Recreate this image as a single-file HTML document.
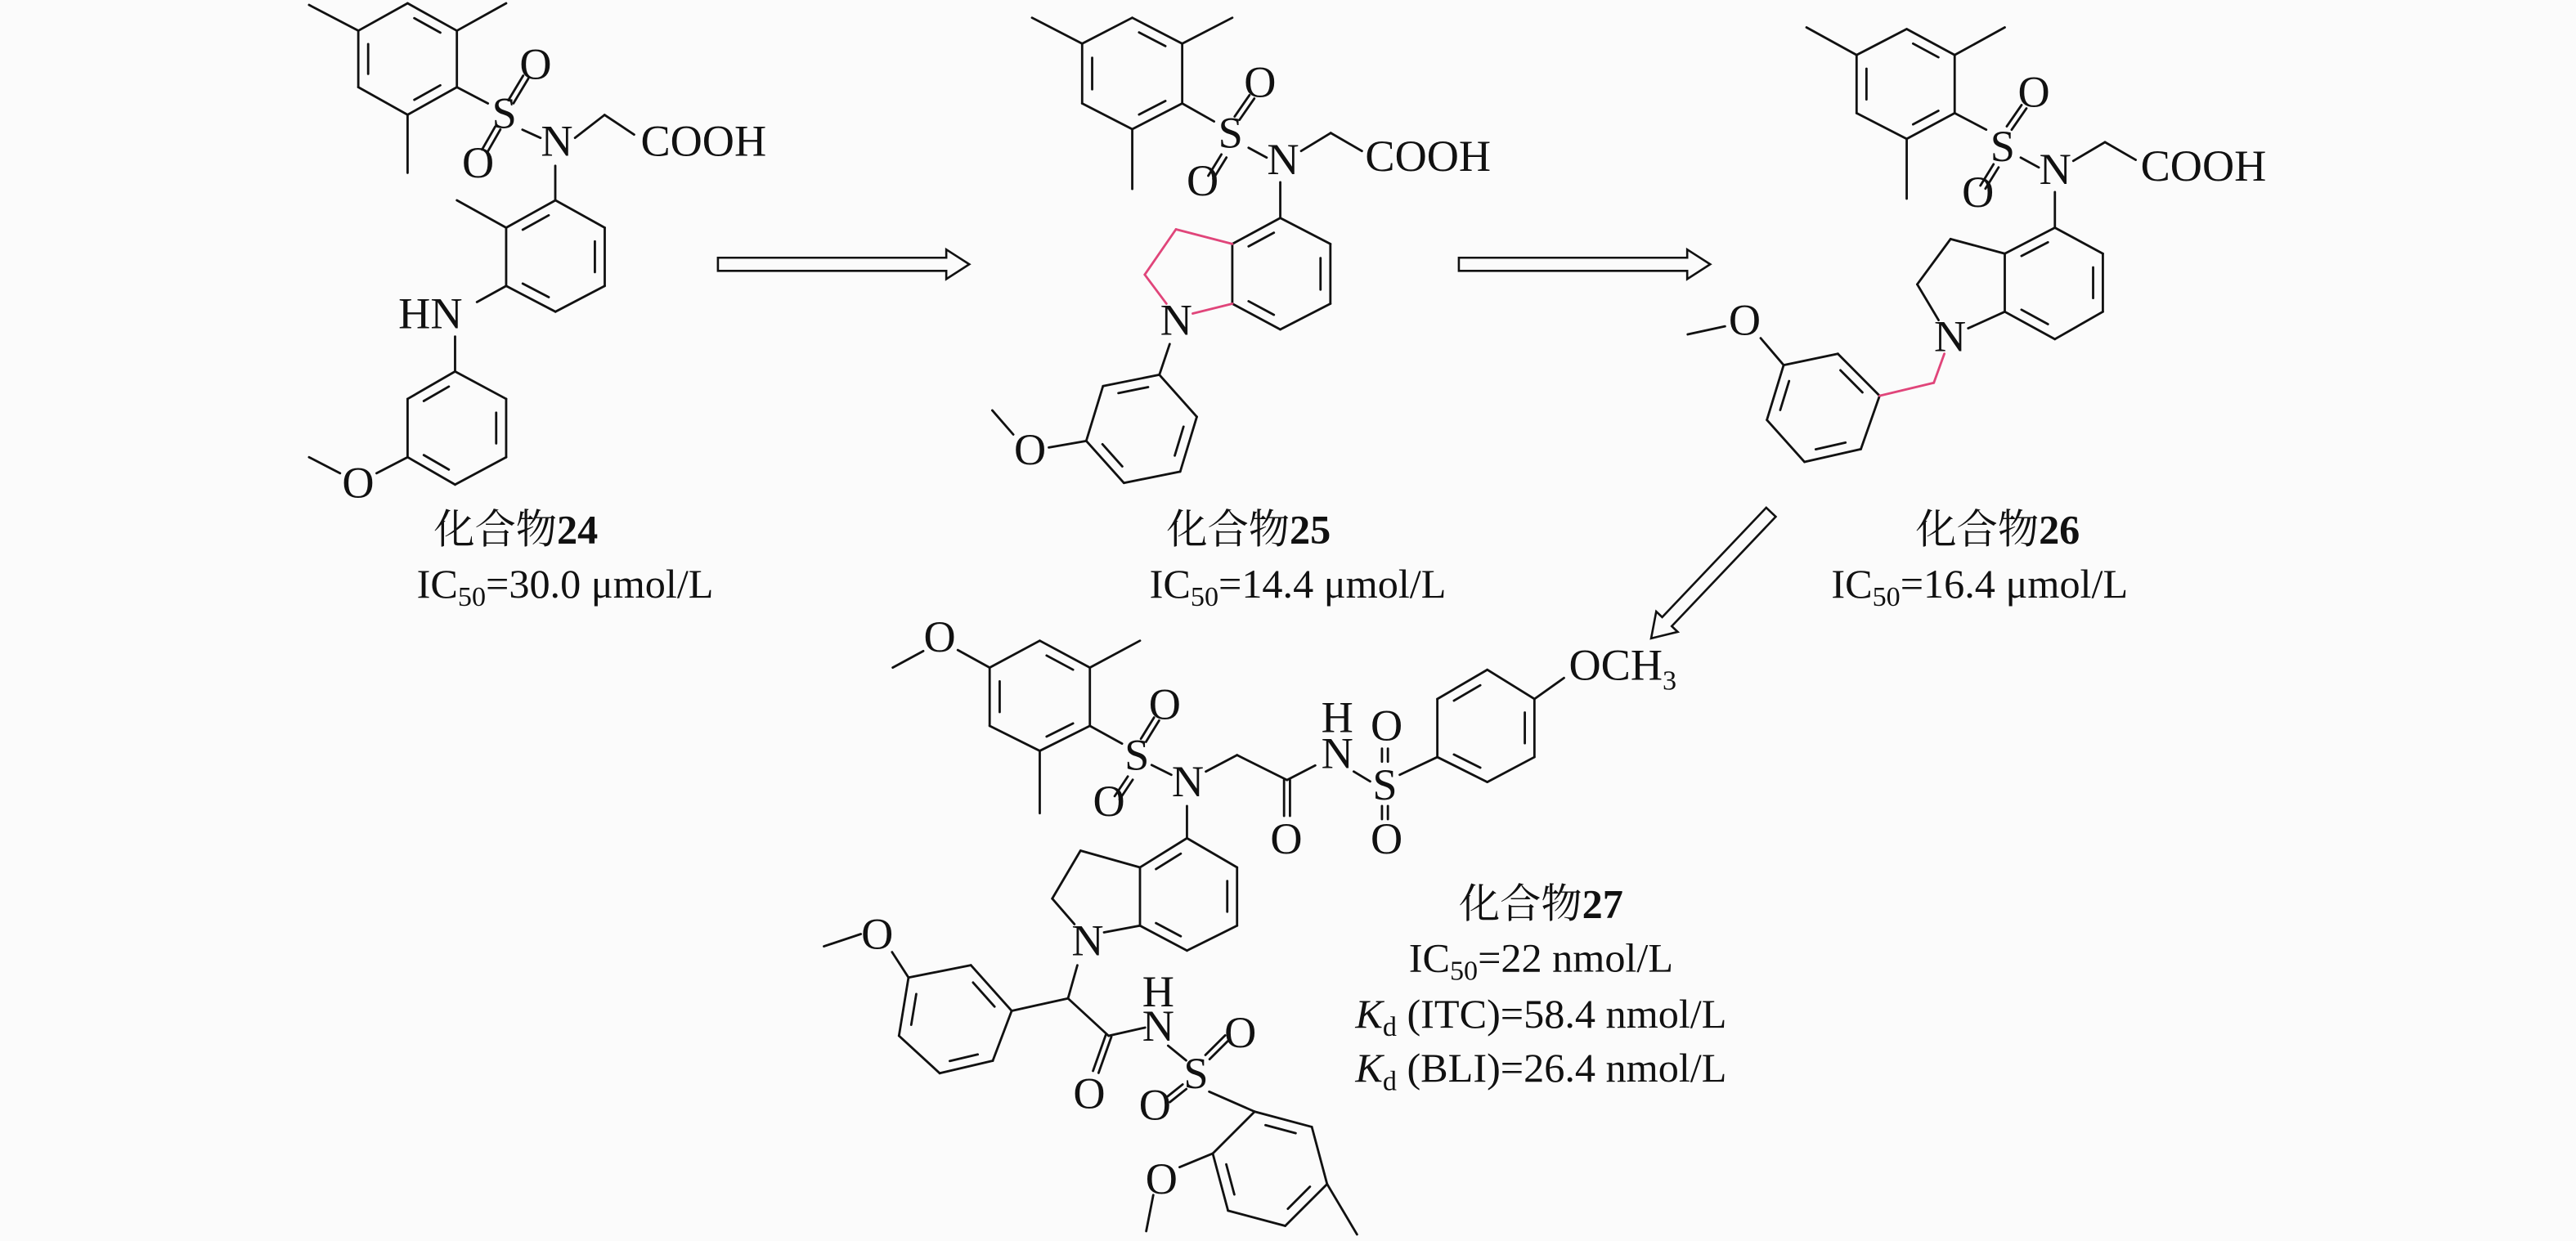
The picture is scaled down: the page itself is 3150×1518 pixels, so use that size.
<!DOCTYPE html>
<html><head><meta charset="utf-8">
<style>
html,body{margin:0;padding:0;background:#fbfbfb;}
svg{display:block;}
text{font-family:"Liberation Serif","Noto Serif CJK SC","Noto Sans CJK SC",serif;fill:#111;}
.a{font-size:27px;}
.l{font-size:25px;}
.c{font-family:"Liberation Serif","Noto Serif CJK SC",serif;font-weight:normal;}
</style></head>
<body>
<svg id="s" width="3150" height="1518" viewBox="0 0 1568 756" preserveAspectRatio="none" xmlns="http://www.w3.org/2000/svg">
<rect width="1568" height="756" fill="#fbfbfb"/>
<g id="bonds" stroke="#111" stroke-width="1.4" fill="none" stroke-linecap="round"></g>
<g id="pink" stroke="#e0457a" stroke-width="1.4" fill="none" stroke-linecap="round"></g>
<g stroke="#111" stroke-width="1.3" fill="#fbfbfb">
<polygon points="437,157 576,157 576,152 590,161 576,170 576,165 437,165"/>
<polygon points="888,157 1027,157 1027,152 1041,161 1027,170 1027,165 888,165"/>
<polygon transform="translate(1078,312) rotate(133.5)" points="0,-4 92,-4 92,-9 106,0 92,9 92,4 0,4"/>
</g>
<g class="a" text-anchor="middle">
<text x="307" y="78">S</text>
<text x="326" y="48">O</text>
<text x="291" y="108">O</text>
<text x="339" y="95">N</text>
<text x="262" y="200">HN</text>
<text x="218" y="303">O</text>
<text x="749" y="90">S</text>
<text x="767" y="59">O</text>
<text x="732" y="119">O</text>
<text x="781" y="106">N</text>
<text x="716" y="204" fill="#e0457a">N</text>
<text x="627" y="283">O</text>
<text x="1219" y="98">S</text>
<text x="1238" y="65">O</text>
<text x="1204" y="126">O</text>
<text x="1251" y="112">N</text>
<text x="1187" y="214">N</text>
<text x="1062" y="204">O</text>
<text x="572" y="397">O</text>
<text x="692" y="469">S</text>
<text x="709" y="438">O</text>
<text x="675" y="497">O</text>
<text x="723" y="485">N</text>
<text x="783" y="520">O</text>
<text x="814" y="446">H</text>
<text x="814" y="468">N</text>
<text x="843" y="487">S</text>
<text x="844" y="451">O</text>
<text x="844" y="520">O</text>
<text x="662" y="582">N</text>
<text x="534" y="578">O</text>
<text x="705" y="613">H</text>
<text x="705" y="634">N</text>
<text x="728" y="663">S</text>
<text x="755" y="638">O</text>
<text x="703" y="682">O</text>
<text x="663" y="675">O</text>
<text x="707" y="727">O</text>
</g>
<g class="a">
<text x="390" y="95">COOH</text>
<text x="831" y="104">COOH</text>
<text x="1303" y="110">COOH</text>
<text x="955" y="414">OCH<tspan font-size="17" dy="6">3</tspan></text>
</g>
<g class="l" text-anchor="middle">
<text x="314" y="331"><tspan class="c">化合物</tspan><tspan font-weight="bold">24</tspan></text>
<text x="344" y="364">IC<tspan font-size="17" dy="5">50</tspan><tspan dy="-5">=30.0 μmol/L</tspan></text>
<text x="760" y="331"><tspan class="c">化合物</tspan><tspan font-weight="bold">25</tspan></text>
<text x="790" y="364">IC<tspan font-size="17" dy="5">50</tspan><tspan dy="-5">=14.4 μmol/L</tspan></text>
<text x="1216" y="331"><tspan class="c">化合物</tspan><tspan font-weight="bold">26</tspan></text>
<text x="1205" y="364">IC<tspan font-size="17" dy="5">50</tspan><tspan dy="-5">=16.4 μmol/L</tspan></text>
<text x="938" y="559"><tspan class="c">化合物</tspan><tspan font-weight="bold">27</tspan></text>
<text x="938" y="592">IC<tspan font-size="17" dy="5">50</tspan><tspan dy="-5">=22 nmol/L</tspan></text>
<text x="938" y="626"><tspan font-style="italic">K</tspan><tspan font-size="17" dy="5">d</tspan><tspan dy="-5"> (ITC)=58.4 nmol/L</tspan></text>
<text x="938" y="659"><tspan font-style="italic">K</tspan><tspan font-size="17" dy="5">d</tspan><tspan dy="-5"> (BLI)=26.4 nmol/L</tspan></text>
</g>
</svg>
<script>
(function(){
var NS="http://www.w3.org/2000/svg";
var B=document.getElementById("bonds"),P=document.getElementById("pink");
function L(x1,y1,x2,y2,g){var e=document.createElementNS(NS,"line");e.setAttribute("x1",x1);e.setAttribute("y1",y1);e.setAttribute("x2",x2);e.setAttribute("y2",y2);(g||B).appendChild(e);}
function PL(pts,g){for(var i=0;i<pts.length-1;i++)L(pts[i][0],pts[i][1],pts[i+1][0],pts[i+1][1],g);}
function hex(p,d){var cx=0,cy=0;for(var i=0;i<6;i++){cx+=p[i][0];cy+=p[i][1];}cx/=6;cy/=6;
for(var i=0;i<6;i++){var a=p[i],b=p[(i+1)%6];L(a[0],a[1],b[0],b[1]);
if(d.indexOf(i)>=0){var q1=[a[0]+(b[0]-a[0])*.17,a[1]+(b[1]-a[1])*.17],q2=[a[0]+(b[0]-a[0])*.83,a[1]+(b[1]-a[1])*.83];
var k=.2;L(q1[0]+(cx-q1[0])*k,q1[1]+(cy-q1[1])*k,q2[0]+(cx-q2[0])*k,q2[1]+(cy-q2[1])*k);}}}
function dbl(x1,y1,x2,y2,o){var dx=x2-x1,dy=y2-y1,l=Math.hypot(dx,dy),nx=-dy/l*o,ny=dx/l*o;L(x1+nx,y1+ny,x2+nx,y2+ny);L(x1-nx,y1-ny,x2-nx,y2-ny);}
hex([[248.1,2],[278.1,18.7],[278.1,53.1],[248.1,69.9],[218.1,53.1],[218.1,18.7]],[0,2,4]);
L(218.1,18.7,188.1,3);L(278.1,18.7,308.1,2);L(248.1,69.9,248.1,105.3);
L(278.1,53.1,297,63);
dbl(311,62,320,47,1.8);dbl(303,78,295,92,1.8);
L(318,79,329,84);L(350,84,368,70);L(368,70,386,82);
L(338,101,338,122);
hex([[338.1,122],[368.1,138.7],[368.1,174.2],[338.1,189.9],[308.1,174.2],[308.1,138.7]],[5,1,3]);
L(308.1,138.7,278.1,122);L(308.1,174.2,290.3,184);
L(277,205,277,226.3);
hex([[277,226.3],[308.1,243],[308.1,278.5],[277,295.2],[248.1,278.5],[248.1,243]],[5,1,3]);
L(248.1,278.5,229.2,288.3);L(188.1,278.5,207,288.3);
hex([[689.2,10.8],[719.6,26.6],[719.6,63],[689.2,78.7],[658.7,63],[658.7,26.6]],[0,2,4]);
L(658.7,26.6,628.2,10.8);L(719.6,26.6,750.1,10.8);L(689.2,78.7,689.2,115.1);
L(719.6,63,739,74);
dbl(753,72,762,59,1.8);dbl(745,95,737,108,1.8);
L(760,90,771,96);L(792,92,810,81);L(810,81,829,92);
L(779.3,111,779.3,132.8);
hex([[779.3,132.8],[809.8,148.6],[809.8,185],[779.3,200.7],[750.1,185],[750.1,148.6]],[5,1,3]);
PL([[750.1,148.6],[715.8,139.7],[696.8,167.3],[710,185]],P);
L(726,191,750.1,185,P);
L(712,209.6,705.7,228.3);
hex([[705.7,228.3],[728.5,253.9],[718.4,287.3],[684.1,294.2],[661.2,268.6],[671.4,235.2]],[5,1,3]);
L(661.2,268.6,638.4,272.6);L(604,250,616.8,264.7);
hex([[1160.6,17.7],[1189.8,33.5],[1189.8,68.9],[1160.6,84.6],[1130.1,68.9],[1130.1,33.5]],[0,2,4]);
L(1130.1,33.5,1099.6,16.7);L(1189.8,33.5,1220.3,16.7);L(1160.6,84.6,1160.6,121);
L(1189.8,68.9,1209,79);
dbl(1223,78,1232,65,1.8);dbl(1215,101,1207,114,1.8);
L(1230,96,1241,102);L(1262,98,1281.3,86.6);L(1281.3,86.6,1300,97.4);
L(1250.8,117,1250.8,138.7);
hex([[1250.8,138.7],[1280,154.5],[1280,189.9],[1250.8,206.6],[1220.3,189.9],[1220.3,154.5]],[5,1,3]);
PL([[1220.3,154.5],[1187.3,145.6],[1167,173.2],[1180,195]]);
L(1198,200,1220.3,189.9);
PL([[1183.5,215.5],[1177.1,233.2],[1144.1,241.1]],P);
hex([[1144.1,241.1],[1118.7,215.5],[1085.7,222.4],[1075.5,255.8],[1098.4,281.4],[1132.7,273.6]],[0,2,4]);
L(1085.7,222.4,1071.7,206);L(1027.3,203.7,1050,198.8);
hex([[632.9,390.3],[663.4,406.7],[663.4,442.2],[632.9,457.4],[602.4,442.2],[602.4,406.7]],[0,2,4]);
L(663.4,406.7,693.9,390.3);L(632.9,457.4,632.9,495.4);
L(602.4,406.7,583,396);L(543.4,406.7,562,396.6);
L(663.4,442.2,683,453);
dbl(696,451,704,438,1.8);dbl(688,474,680,486,1.8);
L(701,466,713,472);
PL([[734,470],[753,460],[783.4,475.2],[800.6,466.3]]);
dbl(783.4,475.2,783.4,497,1.8);
L(824,470,834,476);
dbl(843,456,843,464,1.8);dbl(843,491,843,499,1.8);
L(852,472,874.9,461.2);
hex([[905.3,408],[934,425.8],[934,461.2],[905.3,476.4],[874.9,461.2],[874.9,425.8]],[5,1,3]);
L(934,425.8,952,413);
L(722.5,491,722.5,510.6);
hex([[722.5,510.6],[753,528.4],[753,563.9],[722.5,579.1],[693.9,563.9],[693.9,528.4]],[5,1,3]);
PL([[693.9,528.4],[657.7,518.2],[640.5,547.4],[654,563]]);
L(672,568,693.9,563.9);
PL([[655.8,588],[650.1,608.2],[615.8,615.8]]);
L(650.1,608.2,674.8,631);L(674.8,631,697,626);
dbl(674.8,631,667,653,1.8);
hex([[615.8,615.8],[591,588],[553,595.5],[547.2,631],[572,653.8],[604.3,646.2]],[0,2,4]);
L(553,595.5,543,580);L(501.5,576.5,524,569);
L(711,637,722,646);
dbl(735,644,747,632,1.8);dbl(721,662,711,670,1.8);
L(736,665,763.7,677.2);
hex([[763.7,677.2],[798.5,686.5],[807.8,721.3],[782.3,746.8],[747.5,737.5],[738.2,702.7]],[0,2,4]);
L(807.8,721.3,826,752);
L(738.2,702.7,718,711);L(697.7,750,702,728);
})();
</script>
</body></html>
